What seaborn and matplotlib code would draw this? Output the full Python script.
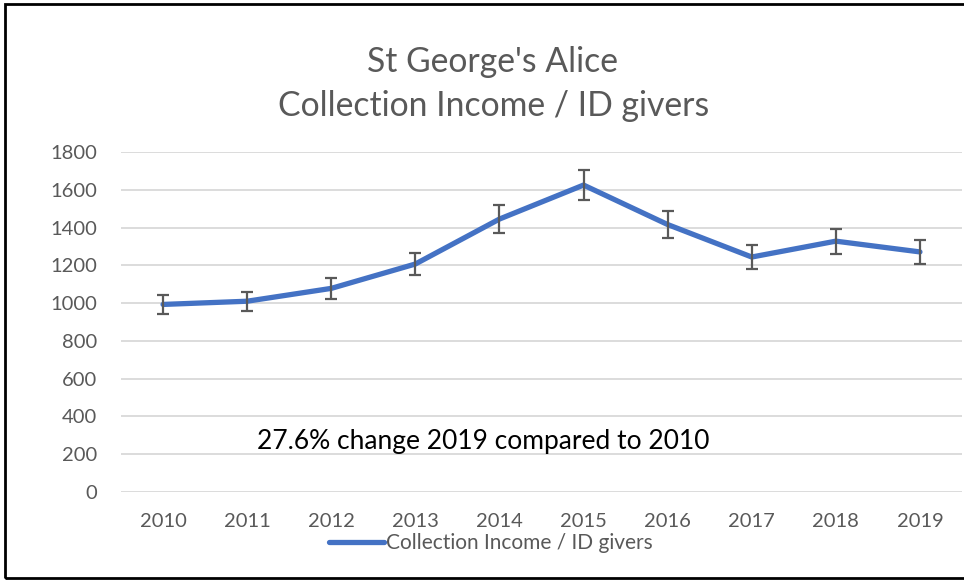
import numpy as np
import pandas as pd
import seaborn as sns
import matplotlib.pyplot as plt
from matplotlib.patches import Rectangle

years = ["2010", "2011", "2012", "2013", "2014", "2015", "2016", "2017", "2018", "2019"]
income_per_giver = [993, 1010, 1078, 1207, 1445, 1625, 1416, 1244, 1328, 1271]
error = [50, 51, 54, 60, 72, 81, 71, 62, 66, 64]
yticks = [0, 200, 400, 600, 800, 1000, 1200, 1400, 1600, 1800]

sns.set_style("white")
plt.rcParams['font.family'] = ['Lato', 'DejaVu Sans']

df = pd.DataFrame({"pos": np.arange(len(years)), "value": income_per_giver})

fig = plt.figure(figsize=(9.64, 5.80), dpi=100)
ax = fig.add_axes([121/964, 1-492/580, 841/964, 340/580])

sns.lineplot(data=df, x="pos", y="value", ax=ax, color="#4472C4", lw=3.8,
             label="Collection Income / ID givers", zorder=3)
ax.errorbar(df["pos"], df["value"], yerr=error, fmt="none", ecolor="#595959",
            elinewidth=1.6, capsize=4.5, capthick=1.6, zorder=4)

ax.set_xlim(-0.5, len(years) - 0.5)
ax.set_ylim(0, 1800)
ax.set_yticks(yticks)
ax.set_xticks(df["pos"])
ax.set_xticklabels(years)
ax.set_xlabel("")
ax.set_ylabel("")
ax.grid(axis="y", color="#d9d9d9", lw=1.3)
ax.set_axisbelow(True)
for s in ax.spines.values():
    s.set_visible(False)
ax.tick_params(axis="both", length=0, labelsize=14.5, colors="#595959")
ax.tick_params(axis="x", pad=15)
ax.tick_params(axis="y", pad=17)

fig.text(493/964, 1-62/580, "St George's Alice", ha="center", va="center",
         fontsize=24.3, color="#595959")
fig.text(494/964, 1-106/580, "Collection Income / ID givers", ha="center", va="center",
         fontsize=24.3, color="#595959")

ax.text(3.81, 270, "27.6% change 2019 compared to 2010", ha="center", va="center",
        fontsize=19, color="black")

leg = ax.legend(loc="center", bbox_to_anchor=(491/964, 1-543/580),
                bbox_transform=fig.transFigure, frameon=False, fontsize=15,
                handlelength=2.6, handletextpad=0.1, borderpad=0)
for t in leg.get_texts():
    t.set_color("#595959")

fig.patches.append(Rectangle((5/964, 2/580), 1.0, 574/580, transform=fig.transFigure,
                             fill=False, edgecolor="black", lw=2))

fig.savefig("out.png", dpi=100)
